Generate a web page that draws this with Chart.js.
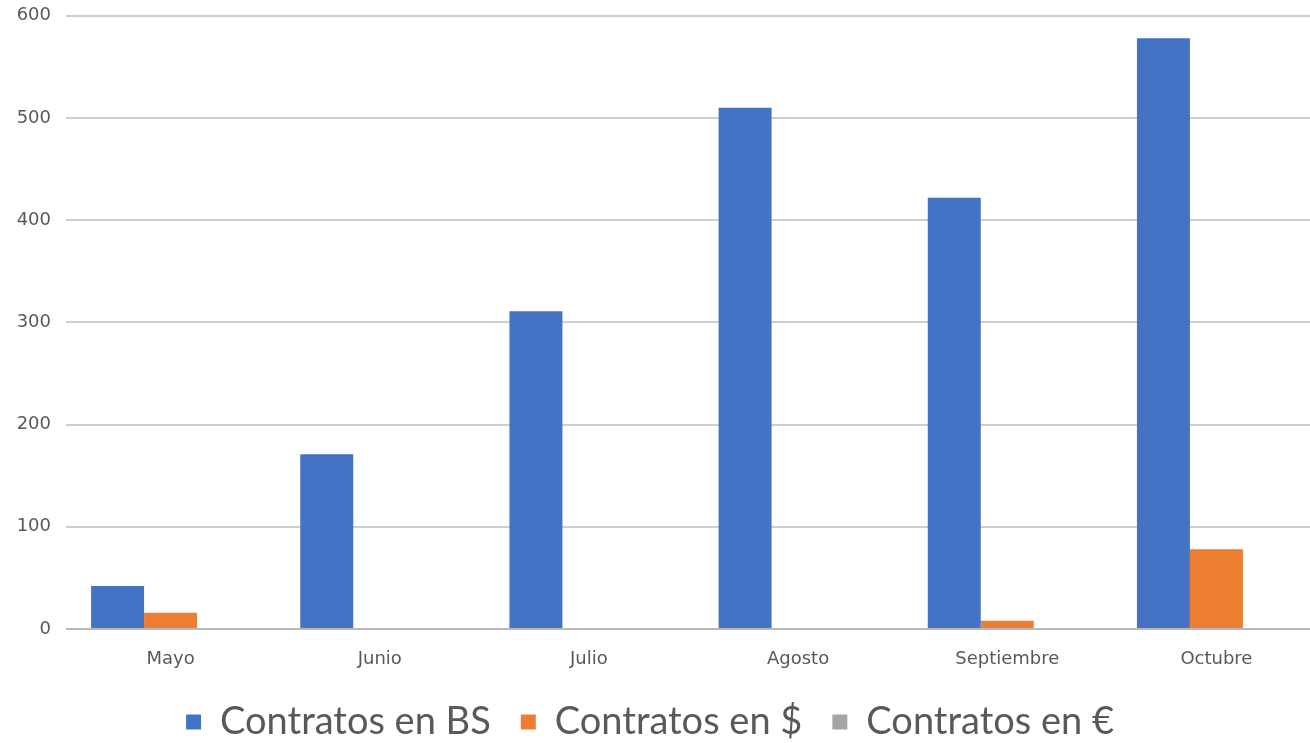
<!DOCTYPE html>
<html lang="es">
<head>
<meta charset="UTF-8">
<title>Contratos</title>
<script src="https://cdn.jsdelivr.net/npm/chart.js"></script>
<style>
  html, body { margin: 0; padding: 0; overflow: hidden; background: #fff; }
  #wrap { width: 1310px; height: 743px; overflow: hidden; position: relative; }
  canvas { position: absolute; left: 0; top: -10px; }
</style>
</head>
<body>
<div id="wrap">
  <canvas id="contratosChart" width="1321" height="761"></canvas>
</div>
<script>
// Datos del grafico
const meses = ['Mayo', 'Junio', 'Julio', 'Agosto', 'Septiembre', 'Octubre'];
const contratosBS = [42, 171, 311, 510, 422, 578];
const contratosUSD = [16, 0, 0, 0, 8, 78];
const contratosEUR = [0, 0, 0, 0, 0, 0];
const yTicks = [0, 100, 200, 300, 400, 500, 600];

const ctx = document.getElementById('contratosChart').getContext('2d');
const chart = new Chart(ctx, {
    type: 'bar',
    data: {
        labels: meses,
        datasets: [
            { label: 'Contratos en BS', data: contratosBS, backgroundColor: '#4472C4' },
            { label: 'Contratos en $', data: contratosUSD, backgroundColor: '#ED7D31' },
            { label: 'Contratos en €', data: contratosEUR, backgroundColor: '#A5A5A5' }
        ]
    },
    options: {
        responsive: false,
        animation: false,
        // negative left padding recentres the legend on the visible window
        layout: { padding: { left: -21, right: 0, top: 0, bottom: 0 } },
        datasets: {
            bar: { categoryPercentage: 0.76, barPercentage: 1.0, borderWidth: 0 }
        },
        scales: {
            x: {
                grid: { display: false, drawTicks: false },
                border: { display: false },
                ticks: {
                    color: '#595959',
                    font: { family: 'DejaVu Sans', size: 18 },
                    padding: 20
                },
                afterFit: (scale) => { scale.height = 44; }
            },
            y: {
                min: 0,
                max: 600,
                afterBuildTicks: (scale) => { scale.ticks = yTicks.map(v => ({ value: v })); },
                grid: {
                    color: (c) => c.tick && c.tick.value === 0 ? '#b8b8b8' : '#cfcfcf',
                    lineWidth: 2,
                    drawTicks: false
                },
                border: { display: false },
                ticks: {
                    color: '#595959',
                    font: { family: 'DejaVu Sans', size: 18 },
                    padding: 15
                },
                afterFit: (scale) => { scale.width = 87; }
            }
        },
        plugins: {
            legend: {
                position: 'bottom',
                align: 'center',
                labels: {
                    color: '#595959',
                    font: { family: 'Lato', size: 38 },
                    boxWidth: 15,
                    boxHeight: 15,
                    padding: 30
                }
            },
            tooltip: { enabled: false }
        }
    }
});
</script>
</body>
</html>
